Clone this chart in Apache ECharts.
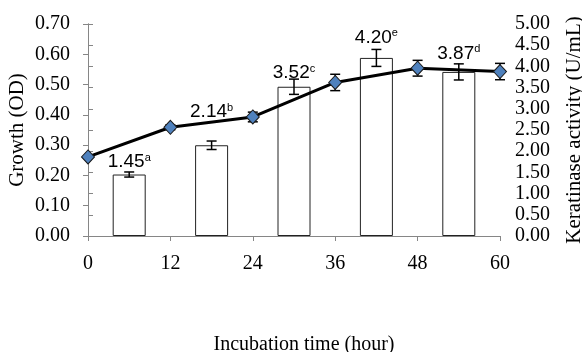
<!DOCTYPE html>
<html><head><meta charset="utf-8">
<script src="https://cdn.jsdelivr.net/npm/echarts@6/dist/echarts.min.js"></script>
<style>html,body{margin:0;padding:0;background:#fff}#c{width:582px;height:352px}</style>
</head><body><div id="c"></div>
<script>
// ---- data ----
var lineHours = [0, 12, 24, 36, 48, 60];
var growthOD = [0.261, 0.359, 0.393, 0.507, 0.554, 0.543];
var growthErr = [0, 0.008, 0.016, 0.027, 0.026, 0.027];
var barHours = [6, 18, 30, 42, 54];
var keratinase = [1.45, 2.14, 3.52, 4.20, 3.87];
var keratinaseErr = [0.06, 0.10, 0.18, 0.20, 0.19];
var sigLetters = ['a', 'b', 'c', 'e', 'd'];
var leftTicks = [0, 0.7, 0.1];
var rightTicks = [0, 5, 0.5];
var xTicks = [0, 60, 12];

// ---- style ----
var labelShift = [2, -19, 1, -6, -4];
var serif = "'Liberation Serif', 'Times New Roman', serif";
var sans = "'Liberation Sans', Arial, sans-serif";
var axisGrey = '#868686';

var chart = echarts.init(document.getElementById('c'));

var barData = barHours.map(function (h, i) {
  return {
    value: [h, keratinase[i]],
    label: { offset: [0, labelShift[i]] }
  };
});

function errItem() {
  return function (params, api) {
    var x = api.value(0), y = api.value(1), e = api.value(2);
    if (!e) return null;
    var lo = api.coord([x, y - e]);
    var hi = api.coord([x, y + e]);
    var w = 5;
    var st = { stroke: '#000', lineWidth: 1.5 };
    return {
      type: 'group',
      children: [
        { type: 'line', shape: { x1: lo[0], y1: lo[1], x2: hi[0], y2: hi[1] }, style: st },
        { type: 'line', shape: { x1: lo[0] - w, y1: lo[1], x2: lo[0] + w, y2: lo[1] }, style: st },
        { type: 'line', shape: { x1: hi[0] - w, y1: hi[1], x2: hi[0] + w, y2: hi[1] }, style: st }
      ]
    };
  };
}

chart.setOption({
  animation: false,
  backgroundColor: '#fff',
  grid: { left: 88, right: 82, top: 24, bottom: 116, containLabel: false, outerBoundsMode: 'none' },
  xAxis: [{
    type: 'value', min: xTicks[0], max: xTicks[1], interval: xTicks[2],
    position: 'bottom',
    axisLine: { show: true, lineStyle: { color: axisGrey } },
    axisTick: { show: false },
    splitLine: { show: false },
    axisLabel: { margin: 18, fontFamily: serif, fontSize: 20, color: '#000' },
    name: 'Incubation time (hour)', nameLocation: 'middle', nameGap: 99,
    nameTextStyle: { fontFamily: serif, fontSize: 20, color: '#000', padding: [0, 0, 0, 20] }
  }, {
    type: 'value', min: xTicks[0], max: xTicks[1], interval: xTicks[2],
    position: 'bottom', offset: 41,
    axisLine: { show: true, lineStyle: { color: axisGrey } },
    axisTick: { show: true, inside: false, length: 5, lineStyle: { color: axisGrey } },
    axisLabel: { show: false },
    splitLine: { show: false }
  }],
  yAxis: [{
    type: 'value', min: leftTicks[0], max: leftTicks[1], interval: leftTicks[2],
    position: 'left',
    axisLine: { show: true, lineStyle: { color: axisGrey } },
    axisTick: { show: true, length: 5, lineStyle: { color: axisGrey } },
    splitLine: { show: false },
    axisLabel: { margin: 18, fontFamily: serif, fontSize: 20, color: '#000',
      formatter: function (v) { return v.toFixed(2); } },
    name: 'Growth (OD)', nameLocation: 'middle', nameGap: 60, nameRotate: 90,
    nameMoveOverlap: false,
    nameTextStyle: { fontFamily: serif, fontSize: 21, color: '#000' }
  }, {
    type: 'value', min: rightTicks[0], max: rightTicks[1], interval: rightTicks[2],
    position: 'right',
    axisLine: { show: true, lineStyle: { color: axisGrey } },
    axisTick: { show: true, length: 5, lineStyle: { color: axisGrey } },
    splitLine: { show: false },
    axisLabel: { margin: 15, fontFamily: serif, fontSize: 20, color: '#000',
      formatter: function (v) { return v.toFixed(2); } },
    name: 'Keratinase activity (U/mL)', nameLocation: 'middle', nameGap: 64, nameRotate: 90,
    nameTextStyle: { fontFamily: serif, fontSize: 21, color: '#000' }
  }],
  series: [{
    type: 'bar', xAxisIndex: 0, yAxisIndex: 1, barWidth: 33,
    data: barData,
    itemStyle: { color: '#fff', borderColor: '#222', borderWidth: 1 },
    label: {
      show: true, position: 'top', distance: 5,
      formatter: function (p) {
        return '{n|' + keratinase[p.dataIndex].toFixed(2) + '}{s|' + sigLetters[p.dataIndex] + '}';
      },
      rich: {
        n: { fontFamily: sans, fontSize: 19, color: '#000' },
        s: { fontFamily: sans, fontSize: 11, color: '#000', verticalAlign: 'top', padding: [0, 0, 8, 0] }
      }
    },
    z: 2
  }, {
    type: 'custom', xAxisIndex: 0, yAxisIndex: 1,
    renderItem: errItem(),
    data: barHours.map(function (h, i) { return [h, keratinase[i], keratinaseErr[i]]; }),
    z: 3
  }, {
    type: 'custom', xAxisIndex: 0, yAxisIndex: 0,
    renderItem: errItem(),
    data: lineHours.map(function (h, i) { return [h, growthOD[i], growthErr[i]]; }),
    z: 4
  }, {
    type: 'line', xAxisIndex: 0, yAxisIndex: 0,
    data: lineHours.map(function (h, i) { return [h, growthOD[i]]; }),
    lineStyle: { color: '#000', width: 3 },
    symbol: 'diamond', symbolSize: [13, 14],
    itemStyle: { color: '#4F81BD', borderColor: '#1a1a1a', borderWidth: 1 },
    z: 5
  }]
});
</script></body></html>
